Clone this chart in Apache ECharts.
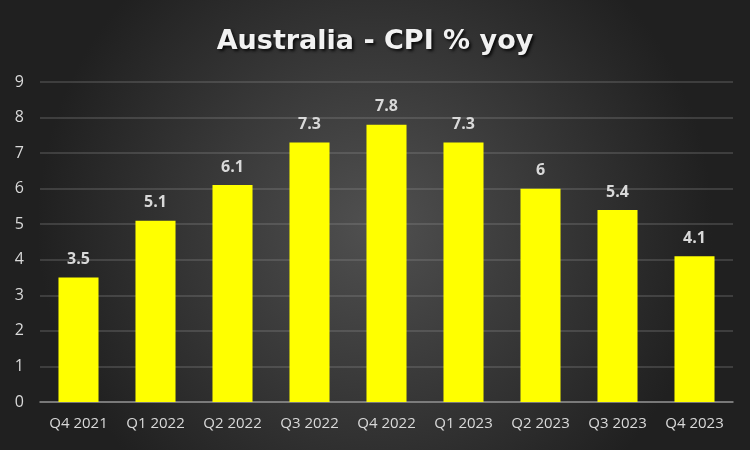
<!DOCTYPE html>
<html><head><meta charset="utf-8">
<script src="https://cdn.jsdelivr.net/npm/echarts@6/dist/echarts.min.js"></script>
<style>html,body{margin:0;padding:0;}#c{width:750px;height:450px;}</style>
</head><body><div id="c"></div>
<script>
var categories = ["Q4 2021","Q1 2022","Q2 2022","Q3 2022","Q4 2022","Q1 2023","Q2 2023","Q3 2023","Q4 2023"];
var cpiValues = [3.5,5.1,6.1,7.3,7.8,7.3,6,5.4,4.1];
var chart = echarts.init(document.getElementById('c'));
chart.setOption({
  backgroundColor: {type:'radial', x:0.5, y:0.5, r:0.75, colorStops:[{offset:0,color:'#505050'},{offset:1,color:'#202020'}]},
  animation:false,
  title:{text:'Australia - CPI % yoy', left:'center', top:23,
    textStyle:{color:'#f2f2f2', fontSize:27, fontWeight:'bold', fontFamily:'DejaVu Sans',
      textShadowColor:'rgba(0,0,0,0.8)', textShadowBlur:3, textShadowOffsetX:2, textShadowOffsetY:2}},
  grid:{left:40, right:17, top:82, bottom:48},
  xAxis:{type:'category', data:categories,
    axisLine:{lineStyle:{color:'#8c8c8c', width:1.5}}, axisTick:{show:false},
    axisLabel:{color:'#d9d9d9', fontSize:15, fontFamily:'Open Sans', margin:14}},
  yAxis:{type:'value', min:0, max:9, interval:1,
    axisLine:{show:false}, axisTick:{show:false},
    splitLine:{lineStyle:{color:'rgba(150,150,150,0.35)', width:1.5}},
    axisLabel:{color:'#d9d9d9', fontSize:16, fontFamily:'Open Sans', margin:16}},
  series:[{type:'bar', data:cpiValues, barWidth:'52%',
    itemStyle:{color:'#ffff00'},
    label:{show:true, position:'top', distance:10, color:'#d9d9d9', fontSize:16, fontWeight:'bold', fontFamily:'Open Sans'}}]
});
</script></body></html>
